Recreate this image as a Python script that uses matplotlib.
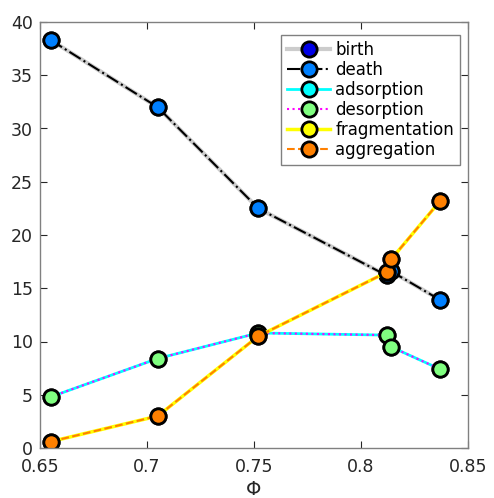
import matplotlib
matplotlib.use("Agg")
import matplotlib.pyplot as plt

# values
phi = [0.655, 0.705, 0.752, 0.812, 0.814, 0.837]
birth = [38.3, 32.0, 22.5, 16.2, 16.6, 13.9]
death = [38.3, 32.0, 22.5, 16.2, 16.6, 13.9]
adsorption = [4.8, 8.4, 10.8, 10.6, 9.5, 7.4]
desorption = [4.8, 8.4, 10.8, 10.6, 9.5, 7.4]
fragmentation = [0.6, 3.0, 10.5, 16.5, 17.7, 23.2]
aggregation = [0.6, 3.0, 10.5, 16.5, 17.7, 23.2]

x_ticks = [0.65, 0.7, 0.75, 0.8, 0.85]
x_labels = ["0.65", "0.7", "0.75", "0.8", "0.85"]
y_ticks = [0, 5, 10, 15, 20, 25, 30, 35, 40]

fig = plt.figure(figsize=(4.94, 4.98), dpi=100)
ax = fig.add_axes([40 / 494, 1 - 448 / 498, 428 / 494, 426 / 498])

mk = dict(marker="o", markersize=11, markeredgecolor="black", markeredgewidth=2)

ax.plot(phi, birth, "-", color=(0.8, 0.8, 0.8), lw=3, markerfacecolor=(0, 0, 0.9),
        label="birth", **mk)
ax.plot(phi, death, "-.", color="black", lw=1.5, markerfacecolor=(0, 0.5, 1),
        label="death", **mk)
ax.plot(phi, adsorption, "-", color="cyan", lw=2, markerfacecolor="cyan",
        label="adsorption", **mk)
ax.plot(phi, desorption, ":", color="magenta", lw=1.5, markerfacecolor=(0.5, 1, 0.5),
        label="desorption", **mk)
ax.plot(phi, fragmentation, "-", color="yellow", lw=2.5, markerfacecolor="yellow",
        label="fragmentation", **mk)
ax.plot(phi, aggregation, "--", color=(1, 0.5, 0), lw=1.5, markerfacecolor=(1, 0.5, 0),
        label="aggregation", **mk)

ax.set_xlim(0.65, 0.85)
ax.set_ylim(0, 40)
ax.set_xticks(x_ticks)
ax.set_xticklabels(x_labels)
ax.set_yticks(y_ticks)
ax.tick_params(direction="in", top=True, right=True, labelsize=12.5,
               colors="#262626", length=5, width=0.8)
ax.tick_params(axis="x", pad=7)
ax.tick_params(axis="y", pad=5)
for s in ax.spines.values():
    s.set_color("#808080")
    s.set_linewidth(1)
ax.set_xlabel("Φ", fontsize=14, labelpad=3, color="#262626")

leg = ax.legend(loc="upper right", fontsize=12, handlelength=2.6, handletextpad=0.3,
                borderpad=0.35, labelspacing=0.12, fancybox=False, framealpha=1,
                borderaxespad=0, bbox_to_anchor=(0.981, 0.969))
leg.get_frame().set_edgecolor("#808080")
leg.get_frame().set_linewidth(1)

fig.savefig("out.png", dpi=100)
